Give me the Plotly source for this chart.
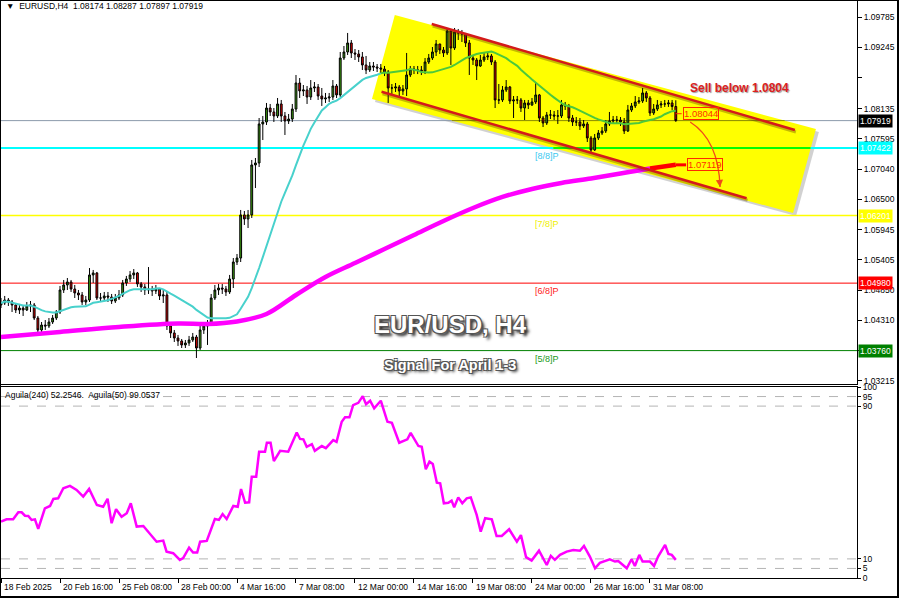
import plotly.graph_objects as go
import pandas as pd

# ---------------- data ----------------
tick_bars = [0, 16, 32, 48, 64, 80, 96, 112, 128, 144, 160, 176]
tick_labels = ["18 Feb 2025", "20 Feb 16:00", "25 Feb 08:00", "28 Feb 00:00", "4 Mar 16:00",
               "7 Mar 08:00", "12 Mar 00:00", "14 Mar 16:00", "19 Mar 08:00", "24 Mar 00:00",
               "26 Mar 16:00", "31 Mar 08:00"]

first_open = 1.04585
closes = [
    1.04621, 1.04675, 1.04639, 1.04585, 1.04494, 1.04530, 1.04494, 1.04567, 1.04585, 1.04349,
    1.04133, 1.04223, 1.04205, 1.04277, 1.04349, 1.04458, 1.04856, 1.04947, 1.05001, 1.04874,
    1.04802, 1.04766, 1.04639, 1.04675, 1.05128, 1.05164, 1.04711, 1.04711, 1.04748, 1.04729,
    1.04657, 1.04711, 1.04766, 1.04983, 1.05055, 1.05128, 1.05164, 1.04965, 1.04911, 1.04856,
    1.04874, 1.04838, 1.04874, 1.04748, 1.04766, 1.04205, 1.04079, 1.03988, 1.03934, 1.03862,
    1.03898, 1.03952, 1.04006, 1.03807, 1.04133, 1.04205, 1.04259, 1.04711, 1.04856, 1.04892,
    1.04874, 1.04820, 1.05055, 1.05362, 1.05434, 1.06213, 1.06140, 1.06213, 1.07117, 1.07153,
    1.07858, 1.07894, 1.08147, 1.08075, 1.08003, 1.08220, 1.08003, 1.07912, 1.07948, 1.08129,
    1.08599, 1.08455, 1.08473, 1.08346, 1.08509, 1.08527, 1.08364, 1.08310, 1.08328, 1.08346,
    1.08545, 1.08383, 1.09051, 1.09160, 1.09323, 1.09142, 1.09124, 1.09070, 1.08925, 1.08834,
    1.08907, 1.08889, 1.08870, 1.08852, 1.08798, 1.08509, 1.08509, 1.08527, 1.08455, 1.08491,
    1.08744, 1.08852, 1.08834, 1.08834, 1.08816, 1.08979, 1.09051, 1.09160, 1.09305, 1.09196,
    1.09142, 1.09540, 1.09232, 1.09522, 1.09504, 1.09486, 1.09323, 1.09051, 1.09015, 1.08907,
    1.09015, 1.09070, 1.09088, 1.08979, 1.08292, 1.08292, 1.08473, 1.08527, 1.08274, 1.08292,
    1.08292, 1.08147, 1.08238, 1.08202, 1.08256, 1.08383, 1.07966, 1.07876, 1.08021, 1.08021,
    1.08003, 1.08003, 1.08202, 1.08184, 1.07966, 1.07894, 1.07894, 1.07822, 1.07858, 1.07605,
    1.07388, 1.07605, 1.07695, 1.07731, 1.07858, 1.07912, 1.07930, 1.07930, 1.07894, 1.07731,
    1.08111, 1.08184, 1.08256, 1.08274, 1.08419, 1.08328, 1.08057, 1.08129, 1.08202, 1.08220,
    1.08220, 1.08238, 1.08174, 1.07919]
highs = [
    1.04711, 1.04748, 1.04711, 1.04675, 1.04621, 1.04603, 1.04585, 1.04639, 1.04657, 1.04621,
    1.04386, 1.04277, 1.04313, 1.04349, 1.04404, 1.04494, 1.04929, 1.05037, 1.05073, 1.05037,
    1.04947, 1.04856, 1.04820, 1.04748, 1.05253, 1.05218, 1.05182, 1.04802, 1.04820, 1.04820,
    1.04784, 1.04784, 1.04856, 1.05037, 1.05110, 1.05200, 1.05235, 1.05182, 1.05001, 1.04965,
    1.05271, 1.04929, 1.04947, 1.04892, 1.04856, 1.04838, 1.04241, 1.04133, 1.04043, 1.03970,
    1.03952, 1.04025, 1.04079, 1.04043, 1.04205, 1.04277, 1.04313, 1.04784, 1.04947, 1.04965,
    1.04965, 1.04929, 1.05128, 1.05434, 1.05507, 1.06303, 1.06285, 1.06303, 1.07207, 1.07243,
    1.07966, 1.08003, 1.08238, 1.08220, 1.08147, 1.08328, 1.08292, 1.08075, 1.08039, 1.08220,
    1.08744, 1.08689, 1.08563, 1.08545, 1.08653, 1.08617, 1.08581, 1.08509, 1.08419, 1.08419,
    1.08653, 1.08581, 1.09160, 1.09268, 1.09504, 1.09377, 1.09214, 1.09196, 1.09160, 1.09088,
    1.08979, 1.08979, 1.08943, 1.08943, 1.08907, 1.08834, 1.08581, 1.08599, 1.08563, 1.08563,
    1.09142, 1.08907, 1.08907, 1.08907, 1.08907, 1.09051, 1.09124, 1.09250, 1.09377, 1.09305,
    1.09250, 1.09594, 1.09576, 1.09594, 1.09576, 1.09558, 1.09504, 1.09377, 1.09106, 1.09051,
    1.09106, 1.09160, 1.09160, 1.09124, 1.09015, 1.08581, 1.08545, 1.08653, 1.08545, 1.08364,
    1.08364, 1.08328, 1.08292, 1.08292, 1.08328, 1.08599, 1.08401, 1.08003, 1.08075, 1.08111,
    1.08093, 1.08111, 1.08292, 1.08256, 1.08220, 1.08021, 1.07984, 1.07966, 1.07930, 1.07894,
    1.07641, 1.07677, 1.07749, 1.07803, 1.07930, 1.08075, 1.08003, 1.08003, 1.07984, 1.07966,
    1.08202, 1.08238, 1.08364, 1.08346, 1.08509, 1.08455, 1.08364, 1.08220, 1.08292, 1.08274,
    1.08292, 1.08292, 1.08292, 1.08287]
lows = [
    1.04530, 1.04585, 1.04567, 1.04458, 1.04440, 1.04422, 1.04386, 1.04476, 1.04458, 1.04313,
    1.04025, 1.04061, 1.04133, 1.04168, 1.04241, 1.04313, 1.04422, 1.04802, 1.04856, 1.04820,
    1.04711, 1.04675, 1.04585, 1.04585, 1.04639, 1.04983, 1.04675, 1.04639, 1.04657, 1.04639,
    1.04603, 1.04621, 1.04675, 1.04729, 1.04929, 1.05001, 1.05055, 1.04911, 1.04820, 1.04766,
    1.04784, 1.04748, 1.04784, 1.04675, 1.04621, 1.04133, 1.03988, 1.03916, 1.03844, 1.03807,
    1.03807, 1.03844, 1.03916, 1.03626, 1.03771, 1.04061, 1.03862, 1.04205, 1.04675, 1.04766,
    1.04784, 1.04748, 1.04784, 1.04892, 1.05308, 1.05362, 1.06032, 1.05977, 1.06158, 1.06700,
    1.07080, 1.07568, 1.07840, 1.08003, 1.07894, 1.07966, 1.07894, 1.07659, 1.07858, 1.07894,
    1.08075, 1.08328, 1.08364, 1.08220, 1.08292, 1.08437, 1.08292, 1.08184, 1.08238, 1.08256,
    1.08292, 1.08328, 1.08346, 1.09015, 1.09106, 1.09051, 1.09015, 1.08979, 1.08834, 1.08761,
    1.08798, 1.08816, 1.08798, 1.08780, 1.08725, 1.08238, 1.08401, 1.08437, 1.08364, 1.08383,
    1.08364, 1.08707, 1.08761, 1.08761, 1.08743, 1.08761, 1.08943, 1.09015, 1.09088, 1.09124,
    1.09070, 1.09106, 1.08925, 1.09196, 1.09377, 1.09341, 1.09250, 1.08744, 1.08925, 1.08653,
    1.08889, 1.08979, 1.09015, 1.08925, 1.08147, 1.08220, 1.08256, 1.08437, 1.08220, 1.07966,
    1.08220, 1.08075, 1.07930, 1.08129, 1.08184, 1.08220, 1.07894, 1.07803, 1.07840, 1.07948,
    1.07930, 1.07858, 1.07966, 1.08111, 1.07894, 1.07822, 1.07822, 1.07749, 1.07785, 1.07532,
    1.07334, 1.07370, 1.07568, 1.07659, 1.07695, 1.07822, 1.07858, 1.07858, 1.07822, 1.07677,
    1.07713, 1.08075, 1.08147, 1.08220, 1.08238, 1.08256, 1.08003, 1.08021, 1.08093, 1.08147,
    1.08166, 1.08166, 1.08111, 1.07897]
opens = [first_open] + closes[:-1]
bars = list(range(len(closes)))

# long moving average (read at sampled bars)
ma_slow_bars = [0, 16, 32, 48, 56, 64, 72, 80, 88, 96, 104, 112, 120, 128, 136, 144, 152,
                160, 168, 172, 176, 183]
ma_slow_vals = [1.04006, 1.04097, 1.04187, 1.04250, 1.04241, 1.04286, 1.04422, 1.04766,
                1.05091, 1.05344, 1.05597, 1.05851, 1.06104, 1.06338, 1.06538, 1.06683,
                1.06791, 1.06872, 1.06963, 1.07008, 1.07053, 1.07119]
fast_period = 20

# Aguila oscillator (bar position, value)
agu_bars = [0, 1.5, 3.3, 4.7, 5.6, 6.5, 7.4, 8.3, 9.2, 10.1, 11.9, 13.3, 14.2, 15.5, 16.9, 18.7,
            20.5, 22.3, 23.9, 26.0, 27.7, 28.9, 30.0, 31.2, 32.7, 34.1, 35.2, 36.8, 38.6, 42.2,
            44.0, 44.9, 46.7, 48.5, 49.4, 51.0, 52.1, 53.2, 54.0, 55.8, 58.0, 59.1, 60.1, 61.2,
            63.0, 64.2, 65.1, 66.2, 67.3, 68.0, 69.2, 70.0, 71.6, 72.1, 73.1, 74.0, 75.7, 77.9,
            80.2, 81.1, 82.0, 82.9, 84.3, 85.1, 87.0, 88.1, 90.1, 91.0, 92.4, 93.3, 94.5, 95.5,
            96.9, 98.1, 99.0, 100.1, 101.2, 103.0, 104.8, 106.0, 108.0, 109.6, 110.2, 111.1,
            113.2, 114.1, 115.2, 116.2, 117.1, 118.2, 119.1, 120.1, 121.3, 122.2, 122.9, 124.0,
            125.1, 126.3, 127.4, 129.0, 130.1, 131.3, 133.1, 134.4, 135.8, 137.8, 139.9, 141.0,
            142.4, 143.9, 145.9, 148.0, 149.1, 150.2, 151.6, 153.4, 155.2, 157.0, 158.1, 159.7,
            161.1, 162.4, 164.3, 165.1, 166.5, 167.4, 169.7, 171.0, 171.9, 173.1, 174.0, 176.0,
            177.1, 178.2, 180.1, 181.0, 181.9, 183.0]
agu_vals = [29.5, 30.7, 30.7, 34.4, 34.4, 32.6, 32.5, 30.4, 30.7, 25.7, 36.5, 37.7, 41.4, 41.7,
            47.0, 48.2, 46.1, 42.6, 46.6, 38.2, 37.3, 41.5, 28.7, 36.0, 32.1, 33.9, 39.1, 26.9,
            27.2, 19.0, 19.6, 13.8, 13.0, 9.5, 10.4, 15.9, 13.3, 13.3, 19.0, 19.4, 30.9, 30.4,
            33.5, 30.9, 37.7, 37.3, 46.6, 39.4, 39.6, 53.0, 53.0, 66.1, 66.1, 70.8, 70.8, 61.2,
            66.6, 66.1, 76.2, 72.8, 72.6, 68.7, 70.1, 66.6, 69.1, 68.0, 72.2, 71.3, 81.8, 84.1,
            84.1, 90.5, 91.7, 95.2, 91.0, 92.8, 88.8, 92.8, 81.8, 81.3, 70.8, 72.2, 72.6, 76.0,
            69.1, 68.7, 56.9, 60.9, 59.7, 49.9, 49.6, 39.1, 39.4, 40.5, 37.0, 42.2, 39.1, 41.7,
            42.2, 33.0, 24.3, 31.3, 30.7, 22.0, 22.0, 25.5, 19.0, 22.5, 10.9, 9.1, 14.3, 6.8,
            11.6, 9.5, 12.1, 13.8, 14.7, 14.3, 16.8, 11.2, 5.1, 7.9, 9.5, 9.8, 8.6, 8.9, 5.1,
            9.8, 6.3, 12.1, 8.6, 8.6, 6.3, 11.2, 17.3, 12.6, 12.1, 9.5]
osc_levels = [95, 90, 10, 5]

# price axis
price_ticks = [1.09785, 1.09245, 1.08705, 1.08135, 1.07595, 1.07040, 1.06500, 1.05945,
               1.05405, 1.04850, 1.04310, 1.03760, 1.03215]
price_tick_text = ["1.09785", "1.09245", "", "1.08135", "1.07595", "1.07040", "1.06500",
                   "1.05945", "1.05405", "1.04850", "1.04310", "", "1.03215"]

# Murrey levels and markers
level_8_8 = 1.07422
level_7_8 = 1.06201
level_6_8 = 1.04980
level_5_8 = 1.03760
last_price = 1.07919
entry_level = 1.08044
target_level = 1.07119

# drawn objects (bar, price)
box_corners = [(106.8, 1.09829), (221.0, 1.07767), (214.8, 1.06248), (100.6, 1.08310)]
chan_upper = [(116.8, 1.09666), (215.3, 1.07749)]
chan_lower = [(103.2, 1.08442), (202.2, 1.06514)]
arrow_path = [(186.9, 1.07894), (194.6, 1.07568), (195.0, 1.06718)]

# ---------------- styling ----------------
FONT = "Liberation Sans, Arial, sans-serif"
X_RANGE = [0, 232.14]
Y_RANGE = [1.03156, 1.10082]
PX_X = 3.6875          # pixels per bar
PX_Y = 0.00018083      # price per pixel


def inside(px, py, poly):
    c = False
    n = len(poly)
    for i in range(n):
        x1, y1 = poly[i]
        x2, y2 = poly[(i + 1) % n]
        if (y1 > py) != (y2 > py):
            xi = x1 + (py - y1) * (x2 - x1) / (y2 - y1)
            if px < xi:
                c = not c
    return c


def hspan(level, poly):
    xs = []
    n = len(poly)
    for i in range(n):
        x1, y1 = poly[i]
        x2, y2 = poly[(i + 1) % n]
        if (y1 - level) * (y2 - level) <= 0 and y1 != y2:
            xs.append(x1 + (level - y1) * (x2 - x1) / (y2 - y1))
    return (min(xs), max(xs)) if len(xs) >= 2 else None


fig = go.Figure()

# candles
fig.add_trace(go.Candlestick(
    x=bars, open=opens, high=highs, low=lows, close=closes,
    increasing=dict(line=dict(color="#000000", width=1), fillcolor="#3e9e12"),
    decreasing=dict(line=dict(color="#000000", width=1), fillcolor="#e00000"),
    whiskerwidth=0, hoverinfo="skip", xaxis="x", yaxis="y", showlegend=False))

# fast MA (cyan outside the box, green inside)
ma_fast = pd.Series(closes).rolling(fast_period, min_periods=1).mean().tolist()
k = next(i for i in bars if inside(i, ma_fast[i], box_corners))
fig.add_trace(go.Scatter(x=bars[:k + 1], y=ma_fast[:k + 1], mode="lines",
                         line=dict(color="#48d1cc", width=2), hoverinfo="skip",
                         showlegend=False, xaxis="x", yaxis="y"))
fig.add_trace(go.Scatter(x=bars[k:], y=ma_fast[k:], mode="lines",
                         line=dict(color="#4cc83c", width=2), hoverinfo="skip",
                         showlegend=False, xaxis="x", yaxis="y"))

# slow MA (magenta outside, red inside box)
ks = next(i for i, (b, v) in enumerate(zip(ma_slow_bars, ma_slow_vals)) if inside(b, v - 0.0004, box_corners))
fig.add_trace(go.Scatter(x=ma_slow_bars[:ks + 1], y=ma_slow_vals[:ks + 1], mode="lines",
                         line=dict(color="#ff00ff", width=4.5, shape="spline"), hoverinfo="skip",
                         showlegend=False, xaxis="x", yaxis="y"))
fig.add_trace(go.Scatter(x=ma_slow_bars[ks:], y=ma_slow_vals[ks:], mode="lines",
                         line=dict(color="#ff0000", width=4.5, shape="spline"), hoverinfo="skip",
                         showlegend=False, xaxis="x", yaxis="y"))

# oscillator
fig.add_trace(go.Scatter(x=agu_bars, y=agu_vals, mode="lines",
                         line=dict(color="#ff00ff", width=2.5), hoverinfo="skip",
                         showlegend=False, xaxis="x2", yaxis="y2"))

shapes = []


def poly_path(pts, dx=0.0, dy=0.0):
    s = "M " + " L ".join(f"{x + dx},{y + dy}" for x, y in pts) + " Z"
    return s


# box shadow + yellow box
shapes.append(dict(type="path", xref="x", yref="y", layer="below",
                   path=poly_path(box_corners, 3 / PX_X, -3 * PX_Y),
                   fillcolor="rgba(0,0,0,0.18)", line=dict(width=0)))
shapes.append(dict(type="path", xref="x", yref="y", layer="below",
                   path=poly_path(box_corners), fillcolor="#ffff00", line=dict(width=0)))


def hline(level, color, width, inside_color=None):
    span = hspan(level, box_corners) if inside_color else None
    if span is None:
        shapes.append(dict(type="line", xref="x", yref="y", x0=X_RANGE[0], x1=X_RANGE[1],
                           y0=level, y1=level, layer="below", line=dict(color=color, width=width)))
    else:
        a, b = span
        for x0, x1, c in [(X_RANGE[0], a, color), (a, b, inside_color), (b, X_RANGE[1], color)]:
            shapes.append(dict(type="line", xref="x", yref="y", x0=x0, x1=x1, y0=level, y1=level,
                               layer="below", line=dict(color=c, width=width)))


hline(last_price, "#8c9aab", 1, "#8a8a00")
hline(level_8_8, "#00ffff", 2, "#00ff00")
hline(level_7_8, "#ffff00", 1.5)
hline(level_6_8, "#ff0000", 1)
hline(level_5_8, "#008000", 1)

# channel lines with shadow
for (p0, p1) in [chan_upper, chan_lower]:
    shapes.append(dict(type="line", xref="x", yref="y", x0=p0[0] + 1 / PX_X, y0=p0[1] - 2 * PX_Y,
                       x1=p1[0] + 1 / PX_X, y1=p1[1] - 2 * PX_Y,
                       line=dict(color="rgba(90,60,0,0.35)", width=3)))
    shapes.append(dict(type="line", xref="x", yref="y", x0=p0[0], y0=p0[1], x1=p1[0], y1=p1[1],
                       line=dict(color="#d41a1a", width=2.5)))

# curved arrow
(a0, a1, a2) = arrow_path
shapes.append(dict(type="path", xref="x", yref="y",
                   path=f"M {a0[0]},{a0[1]} Q {a1[0]},{a1[1]} {a2[0]},{a2[1]}",
                   line=dict(color="#f04a1a", width=1.3)))
# connectors
shapes.append(dict(type="line", xref="x", yref="y", x0=len(closes) - 1, x1=len(closes) - 1 + 1.6,
                   y0=entry_level, y1=entry_level, line=dict(color="#ff2a00", width=1)))
shapes.append(dict(type="line", xref="x", yref="y", x0=ma_slow_bars[-1], x1=ma_slow_bars[-1] + 2.8,
                   y0=target_level, y1=target_level, line=dict(color="#ff0000", width=3)))

# oscillator dashed levels
for lv in osc_levels:
    shapes.append(dict(type="line", xref="paper", yref="y2", x0=0, x1=1, y0=lv, y1=lv,
                       layer="below", line=dict(color="#b4b4b4", width=1, dash="dash")))

# outer frame
shapes.append(dict(type="rect", xref="paper", yref="paper", x0=-1 / 856, x1=897 / 856,
                   y0=-19 / 577, y1=578 / 577, line=dict(color="#000000", width=2)))

annotations = []

# x labels
for b, t in zip(tick_bars, tick_labels):
    annotations.append(dict(x=b, y=-9 / 577, xref="x2", yref="paper", text=t, showarrow=False,
                            xanchor="left", yanchor="middle", xshift=1,
                            font=dict(family=FONT, size=8.5, color="#000000")))

# right-axis price boxes
for val, bg in [(last_price, "#000000"), (level_8_8, "#00ffff"), (level_7_8, "#ffff00"),
                (level_6_8, "#ff0000"), (level_5_8, "#008000")]:
    annotations.append(dict(x=1, y=val, xref="paper", yref="y", text=f"{val:.5f}",
                            showarrow=False, xanchor="left", yanchor="middle", xshift=1,
                            bgcolor=bg, borderpad=1,
                            font=dict(family=FONT, size=8.5, color="#ffffff")))

# murrey labels
for val, txt, col in [(level_8_8, "[8/8]P", "#3cc8f0"), (level_7_8, "[7/8]P", "#f0f000"),
                      (level_6_8, "[6/8]P", "#ff2020"), (level_5_8, "[5/8]P", "#1a9a1a")]:
    annotations.append(dict(x=144.3, y=val, xref="x", yref="y", text=txt, showarrow=False,
                            xanchor="left", yanchor="top", yshift=-1,
                            font=dict(family=FONT, size=9, color=col)))

# labels on the chart
annotations.append(dict(x=184.9, y=entry_level, xref="x", yref="y", text=f"{entry_level:.5f}",
                        showarrow=False, xanchor="left", yanchor="middle",
                        bordercolor="#ff2a00", borderwidth=1, borderpad=0,
                        font=dict(family=FONT, size=9.5, color="#ff3000")))
annotations.append(dict(x=186.0, y=target_level, xref="x", yref="y", text=f"{target_level:.5f}",
                        showarrow=False, xanchor="left", yanchor="middle",
                        bordercolor="#ff2a00", borderwidth=1, borderpad=0,
                        font=dict(family=FONT, size=9.5, color="#ff3000")))
annotations.append(dict(x=a2[0], y=a2[1], xref="x", yref="y", ax=a2[0] - 0.15,
                        ay=a2[1] + 0.0012, axref="x", ayref="y", text="", showarrow=True,
                        arrowhead=2, arrowsize=1.2, arrowwidth=1.2, arrowcolor="#f04a1a"))
annotations.append(dict(x=200.4, y=1.08509, xref="x", yref="y", text="<b>Sell below 1.0804</b>",
                        showarrow=False, xanchor="center", yanchor="middle",
                        font=dict(family=FONT, size=12, color="#dc2020",
                                  shadow="1px 1px 1px #9a9a9a")))
annotations.append(dict(x=449 / 856, y=253 / 577, xref="paper", yref="paper",
                        text="<b>EUR/USD, H4</b>", showarrow=False,
                        xanchor="center", yanchor="middle",
                        font=dict(family=FONT, size=24, color="#ffffff",
                                  shadow="-1px -1px 0 #555, 1px -1px 0 #555, -1px 1px 0 #555, "
                                         "1px 1px 0 #555, 3px 3px 3px #222")))
annotations.append(dict(x=449 / 856, y=213 / 577, xref="paper", yref="paper",
                        text="<b>Signal For April 1-3</b>", showarrow=False,
                        xanchor="center", yanchor="middle",
                        font=dict(family=FONT, size=14.5, color="#ffffff",
                                  shadow="-1px -1px 0 #555, 1px -1px 0 #555, -1px 1px 0 #555, "
                                         "1px 1px 0 #555, 2px 2px 3px #222")))
annotations.append(dict(x=3 / 856, y=572 / 577, xref="paper", yref="paper",
                        text="\u25bc  EURUSD,H4  1.08174 1.08287 1.07897 1.07919",
                        showarrow=False, xanchor="left", yanchor="middle",
                        font=dict(family=FONT, size=8.5, color="#000000")))
annotations.append(dict(x=2 / 856, y=(578 - 395) / 577, xref="paper", yref="paper",
                        text="Aguila(240) 52.2546.  Aguila(50) 99.0537",
                        showarrow=False, xanchor="left", yanchor="middle",
                        font=dict(family=FONT, size=8.5, color="#000000")))

axis_common = dict(showgrid=False, zeroline=False, showline=True, mirror=True,
                   linecolor="#000000", linewidth=1)

fig.update_layout(
    width=900, height=599,
    margin=dict(l=1, r=43, t=1, b=21),
    paper_bgcolor="#ffffff", plot_bgcolor="#ffffff",
    showlegend=False,
    xaxis=dict(domain=[0, 1], range=X_RANGE, anchor="y", showticklabels=False, ticks="",
               rangeslider=dict(visible=False), **axis_common),
    yaxis=dict(domain=[194 / 577, 1], range=Y_RANGE, side="right", anchor="x",
               tickvals=price_ticks, ticktext=price_tick_text, ticks="outside", ticklen=4,
               tickcolor="#000000", tickfont=dict(family=FONT, size=8.5, color="#000000"),
               automargin=False, **axis_common),
    xaxis2=dict(domain=[0, 1], range=X_RANGE, anchor="y2", matches="x",
                tickvals=tick_bars, ticks="outside", ticklen=4, tickcolor="#000000",
                showticklabels=False, automargin=False, **axis_common),
    yaxis2=dict(domain=[0, 191 / 577], range=[0, 100], side="right", anchor="x2",
                tickvals=[0, 5, 10, 90, 95, 100], ticktext=["0", "5", "10", "90", "95", "100"],
                ticks="outside", ticklen=3, tickcolor="#000000",
                tickfont=dict(family=FONT, size=8.5, color="#000000"),
                automargin=False, **axis_common),
    shapes=shapes,
    annotations=annotations,
)

fig.write_html("out.html", config={"displayModeBar": False},
               post_script="document.body.style.margin='0';document.body.style.overflow='hidden';")
